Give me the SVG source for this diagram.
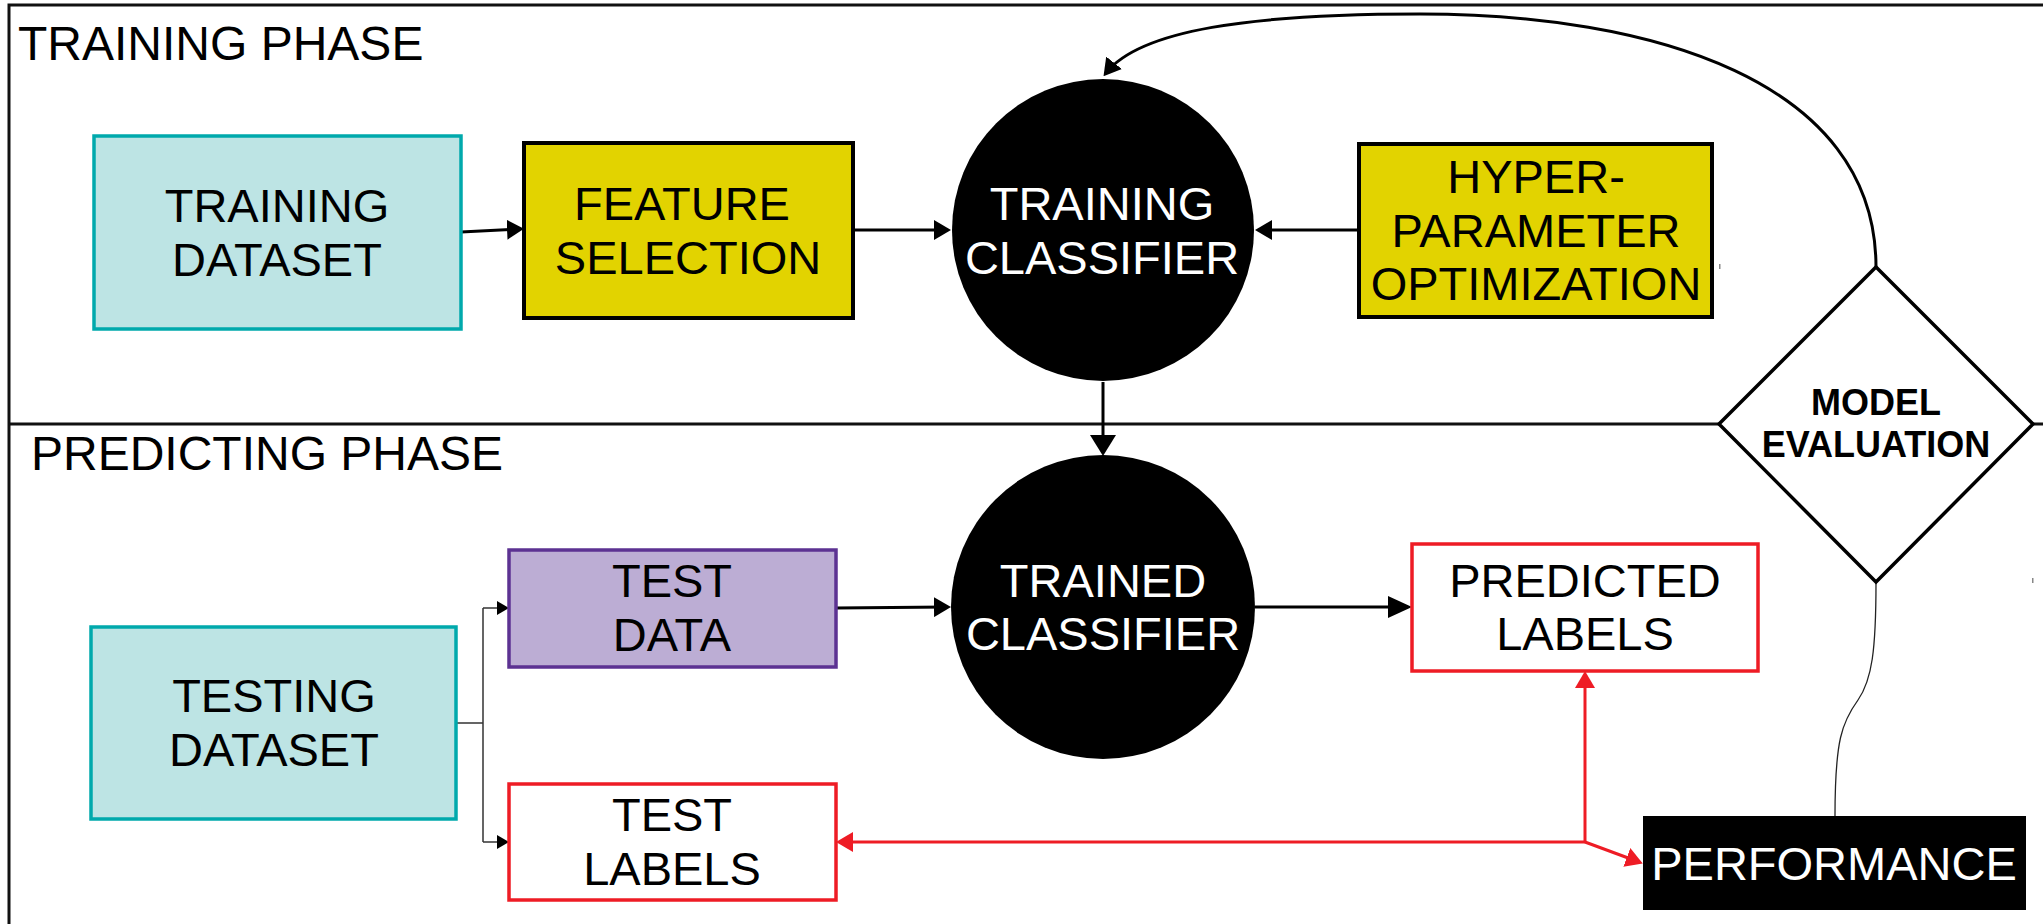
<svg xmlns="http://www.w3.org/2000/svg" width="2043" height="924" viewBox="0 0 2043 924">
  <style>
    text { font-family: "Liberation Sans", Arial, sans-serif; font-size: 47px; text-anchor: middle; fill: #000; }
    .phase { font-size: 48px; text-anchor: start; }
    .white { fill: #fff; }
    .bold { font-weight: bold; font-size: 36px; }
    .frame { stroke: #111; stroke-width: 3; fill: none; }
    .data { fill: #bde4e4; stroke: #00a9ac; stroke-width: 3.5; }
    .proc { fill: #e2d300; stroke: #000; stroke-width: 4; }
    .purple { fill: #bcadd4; stroke: #5c3292; stroke-width: 3.5; }
    .redbox { fill: #fff; stroke: #ee1c25; stroke-width: 3.5; }
    .dark { fill: #000; }
    .link { stroke: #000; stroke-width: 3; fill: none; }
    .thin { stroke: #333; stroke-width: 1.5; fill: none; }
    .red { stroke: #ee1c25; stroke-width: 3; fill: none; }
  </style>
  <defs>
    <marker id="ah" markerUnits="userSpaceOnUse" markerWidth="17" markerHeight="20" viewBox="0 0 17 20" refX="13" refY="10" orient="auto">
      <path d="M0,0 L17,10 L0,20 Z" fill="#000"/>
    </marker>
    <marker id="ahLong" markerUnits="userSpaceOnUse" markerWidth="24" markerHeight="22" viewBox="0 0 24 22" refX="20" refY="11" orient="auto">
      <path d="M0,0 L24,11 L0,22 Z" fill="#000"/>
    </marker>
    <marker id="ahDown" markerUnits="userSpaceOnUse" markerWidth="21" markerHeight="26" viewBox="0 0 21 26" refX="15" refY="13" orient="auto">
      <path d="M0,0 L21,13 L0,26 Z" fill="#000"/>
    </marker>
    <marker id="ahSmall" markerUnits="userSpaceOnUse" markerWidth="12" markerHeight="14" viewBox="0 0 12 14" refX="9" refY="7" orient="auto">
      <path d="M0,0 L12,7 L0,14 Z" fill="#000"/>
    </marker>
    <marker id="ahRed" markerUnits="userSpaceOnUse" markerWidth="17" markerHeight="20" viewBox="0 0 17 20" refX="13" refY="10" orient="auto">
      <path d="M0,0 L17,10 L0,20 Z" fill="#ee1c25"/>
    </marker>
  </defs>

  <rect width="2043" height="924" fill="#fff"/>

  <!-- outer frame and phase divider -->
  <g id="frame">
    <path class="frame" d="M9,924 V5 H2043"/>
    <path class="frame" d="M9,424 H1719 M2033,424 H2043"/>
    <text class="phase" x="18" y="60">TRAINING PHASE</text>
    <text class="phase" x="31" y="470">PREDICTING PHASE</text>
    <rect x="1719" y="264" width="1.5" height="5" fill="#888"/>
    <rect x="2032" y="578" width="1.5" height="5" fill="#888"/>
  </g>

  <!-- connectors -->
  <g id="connectors">
    <path class="link" d="M461,232 L520,229" marker-end="url(#ah)"/>
    <path class="link" d="M853,230 H947" marker-end="url(#ah)"/>
    <path class="link" d="M1359,230 H1259" marker-end="url(#ah)"/>
    <path class="link" d="M1103,382 V450" stroke-width="6" marker-end="url(#ahDown)"/>
    <path class="link" d="M1876,267 C1876,80 1650,14 1420,14 C1250,14 1140,30 1106,73" stroke-width="3.3" marker-end="url(#ah)"/>
    <path class="link" d="M836,608 L947,607" marker-end="url(#ah)"/>
    <path class="link" d="M1255,607 H1408" marker-end="url(#ahLong)"/>
    <path class="thin" d="M456,723 H483 M483,608 V842"/>
    <path class="thin" d="M483,608 H506" marker-end="url(#ahSmall)"/>
    <path class="thin" d="M483,842 H506" marker-end="url(#ahSmall)"/>
    <path class="red" d="M1585,842 H840" marker-end="url(#ahRed)"/>
    <path class="red" d="M1585,842 V675" marker-end="url(#ahRed)"/>
    <path class="red" d="M1585,842 L1639,862" marker-end="url(#ahRed)"/>
    <path d="M1876,582 C1876,650 1872,680 1858,700 C1842,722 1835,740 1835,816" stroke="#222" stroke-width="1.3" fill="none"/>
  </g>

  <g id="training-dataset">
    <rect class="data" x="94" y="136" width="367" height="193"/>
    <text x="277" y="222">TRAINING</text>
    <text x="277" y="276">DATASET</text>
  </g>

  <g id="feature-selection">
    <rect class="proc" x="524" y="143" width="329" height="175"/>
    <text x="682" y="220">FEATURE</text>
    <text x="688" y="274">SELECTION</text>
  </g>

  <g id="training-classifier">
    <circle class="dark" cx="1103" cy="230" r="151"/>
    <text class="white" x="1102" y="220">TRAINING</text>
    <text class="white" x="1102" y="274">CLASSIFIER</text>
  </g>

  <g id="hyperparameter-optimization">
    <rect class="proc" x="1359" y="144" width="353" height="173"/>
    <text x="1536" y="193">HYPER-</text>
    <text x="1536" y="247">PARAMETER</text>
    <text x="1536" y="300">OPTIMIZATION</text>
  </g>

  <g id="model-evaluation">
    <polygon points="1876,267 2033,424 1876,582 1719,424" fill="#fff" stroke="#000" stroke-width="3.5"/>
    <text class="bold" x="1876" y="415">MODEL</text>
    <text class="bold" x="1876" y="457">EVALUATION</text>
  </g>

  <g id="testing-dataset">
    <rect class="data" x="91" y="627" width="365" height="192"/>
    <text x="274" y="712">TESTING</text>
    <text x="274" y="766">DATASET</text>
  </g>

  <g id="test-data">
    <rect class="purple" x="509" y="550" width="327" height="117"/>
    <text x="672" y="597">TEST</text>
    <text x="672" y="651">DATA</text>
  </g>

  <g id="test-labels">
    <rect class="redbox" x="509" y="784" width="327" height="116"/>
    <text x="672" y="831">TEST</text>
    <text x="672" y="885">LABELS</text>
  </g>

  <g id="trained-classifier">
    <circle class="dark" cx="1103" cy="607" r="152"/>
    <text class="white" x="1103" y="597">TRAINED</text>
    <text class="white" x="1103" y="650">CLASSIFIER</text>
  </g>

  <g id="predicted-labels">
    <rect class="redbox" x="1412" y="544" width="346" height="127"/>
    <text x="1585" y="597">PREDICTED</text>
    <text x="1585" y="650">LABELS</text>
  </g>

  <g id="performance">
    <rect class="dark" x="1643" y="816" width="383" height="94"/>
    <text class="white" x="1834" y="880">PERFORMANCE</text>
  </g>
</svg>
